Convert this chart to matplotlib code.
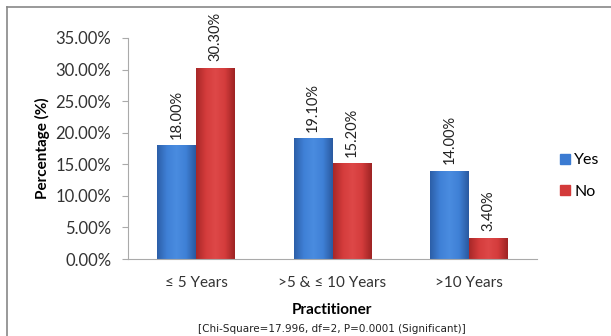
import numpy as np
import matplotlib.pyplot as plt
from matplotlib.lines import Line2D
from matplotlib.colors import LinearSegmentedColormap

plt.rcParams['font.family'] = ['Lato', 'DejaVu Sans']

categories = ["≤ 5 Years", ">5 & ≤ 10 Years", ">10 Years"]
yes_vals = [18.00, 19.10, 14.00]
no_vals = [30.30, 15.20, 3.40]
series = ["Yes", "No"]
yticks = [0, 5, 10, 15, 20, 25, 30, 35]

blue = "#3b7bd2"
red = "#d33a3a"
shades = {
    blue: ["#2c5fa8", "#3f80d6", "#4a8ce0", "#3f80d6", "#2a5aa0"],
    red: ["#a82828", "#d43c3c", "#de4848", "#d43c3c", "#9e2424"],
}

W, H = 611, 336
fig = plt.figure(figsize=(W/100, H/100), dpi=100)
ax = fig.add_axes([128/W, 1 - 259/H, (537 - 128)/W, (259 - 38)/H])

x = np.arange(len(categories))
w = 0.286
b1 = ax.bar(x - w/2, yes_vals, w, color=blue, linewidth=0, label=series[0])
b2 = ax.bar(x + w/2, no_vals, w, color=red, linewidth=0, label=series[1])

# bevelled look: horizontal shading clipped to every bar
grad = np.linspace(0, 1, 64).reshape(1, -1)
for bars, col in ((b1, blue), (b2, red)):
    cmap = LinearSegmentedColormap.from_list("shade", shades[col])
    for bar in bars:
        x0, h, bw = bar.get_x(), bar.get_height(), bar.get_width()
        im = ax.imshow(grad, cmap=cmap, aspect="auto", extent=(x0, x0 + bw, 0, h),
                       zorder=bar.get_zorder() + 0.1)
        im.set_clip_path(bar)

for bars, vals in ((b1, yes_vals), (b2, no_vals)):
    for bar, v in zip(bars, vals):
        ax.text(bar.get_x() + bar.get_width()/2, v + 1.0, f"{v:.2f}%",
                rotation=90, ha="center", va="bottom", fontsize=10.5, color="#222222")

ax.set_xlim(-0.5, 2.5)
ax.set_ylim(0, 35)
ax.set_yticks(yticks)
ax.set_yticklabels([f"{t:.2f}%" for t in yticks], fontsize=12, color="#333333")
ax.set_xticks(x)
ax.set_xticklabels(categories, fontsize=11, color="#333333")
ax.tick_params(axis="x", length=0, pad=12)
ax.tick_params(axis="y", length=4, color="#aaaaaa", pad=8)
for s in ("top", "right"):
    ax.spines[s].set_visible(False)
ax.spines["left"].set_color("#aaaaaa")
ax.spines["bottom"].set_color("#aaaaaa")

ax.set_ylabel("Percentage (%)", fontsize=11, fontweight="bold", labelpad=4)
fig.text(332/W, 1 - 310/H, "Practitioner", fontsize=11, fontweight="bold",
         ha="center", va="center")
fig.text(332/W, 1 - 329/H, "[Chi-Square=17.996, df=2, P=0.0001 (Significant)]",
         fontsize=7.5, family="DejaVu Sans", ha="center", va="center", color="#222222")

handles = [Line2D([], [], marker="s", linestyle="none", markersize=7.5,
                  markerfacecolor=c, markeredgecolor=c) for c in (blue, red)]
fig.legend(handles, series, loc="center left", bbox_to_anchor=(559/W, 1 - 176/H),
           frameon=False, fontsize=11.5, handletextpad=0.15, labelspacing=1.1,
           handlelength=0.8, borderpad=0, borderaxespad=0)

# outer chart border
fig.add_artist(Line2D([7/W, 7/W], [0, 1 - 7/H], color="#888888", linewidth=1.2,
                      transform=fig.transFigure))
fig.add_artist(Line2D([7/W, 1], [1 - 7/H, 1 - 7/H], color="#888888", linewidth=1.2,
                      transform=fig.transFigure))

fig.savefig("out.png", dpi=100)
